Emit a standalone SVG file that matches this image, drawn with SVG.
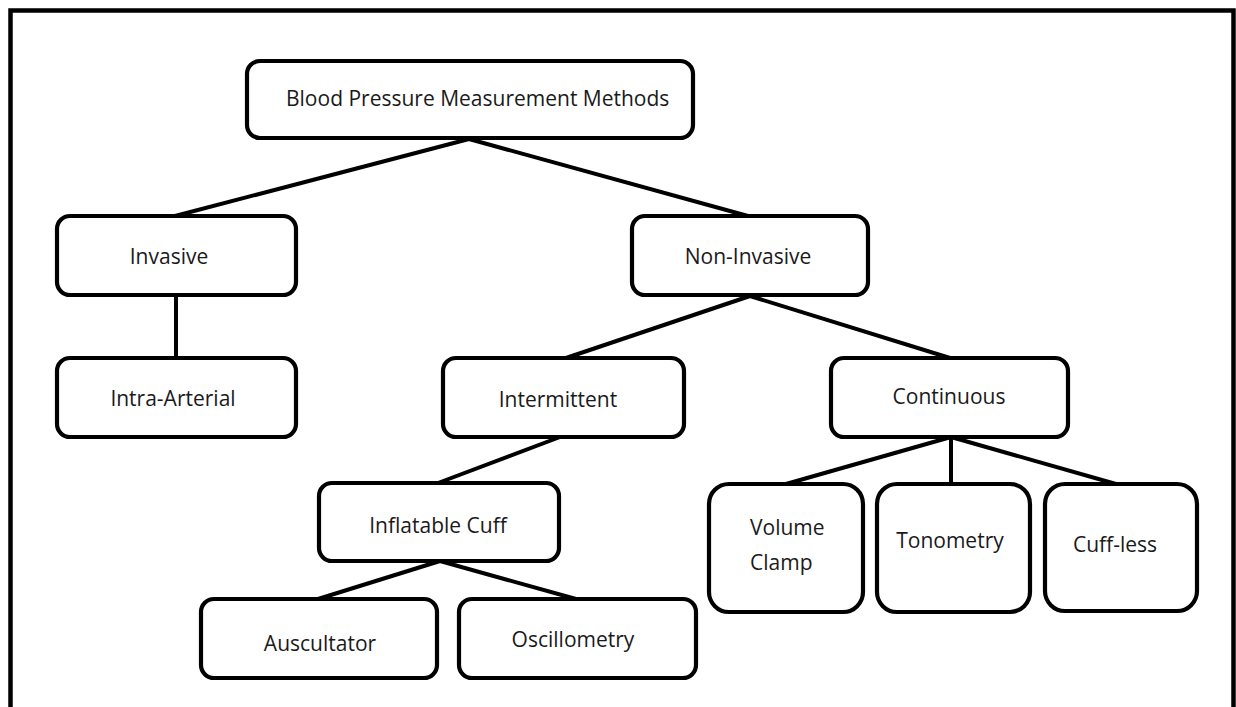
<svg xmlns="http://www.w3.org/2000/svg" width="1236" height="707" viewBox="0 0 1236 707">
  <style>
    .box { fill: #ffffff; stroke: #000000; stroke-width: 4.2; }
    .link { stroke: #000000; stroke-width: 4; stroke-linecap: butt; fill: none; }
    .frame { stroke: #000000; stroke-width: 4.5; fill: none; }
    text { font-family: "Open Sans", "Noto Sans", "DejaVu Sans", sans-serif; font-size: 21px; fill: #1a1a1a; }
    .c { text-anchor: middle; }
  </style>

  <rect width="1236" height="707" fill="#ffffff"/>

  <!-- page frame, open at the bottom -->
  <path class="frame" d="M10.5,707 V10.5 H1233.5 V707"/>

  <!-- tree edges -->
  <g id="connectors">
    <line class="link" x1="469" y1="139" x2="175" y2="216"/>
    <line class="link" x1="469" y1="139" x2="748" y2="216"/>
    <line class="link" x1="176" y1="295" x2="176" y2="358"/>
    <line class="link" x1="750" y1="296" x2="566" y2="358"/>
    <line class="link" x1="750" y1="296" x2="950" y2="358"/>
    <line class="link" x1="560" y1="437" x2="438" y2="483"/>
    <line class="link" x1="440" y1="561" x2="318" y2="599"/>
    <line class="link" x1="440" y1="561" x2="576" y2="599"/>
    <line class="link" x1="951" y1="437" x2="786" y2="484"/>
    <line class="link" x1="951" y1="437" x2="951" y2="484"/>
    <line class="link" x1="951" y1="437" x2="1116" y2="484"/>
  </g>

  <g id="root">
    <rect class="box" x="247" y="61" width="446" height="77" rx="13"/>
    <text x="286" y="106">Blood Pressure Measurement Methods</text>
  </g>

  <g id="invasive">
    <rect class="box" x="57" y="216" width="239" height="79" rx="13"/>
    <text class="c" x="169" y="264">Invasive</text>
  </g>

  <g id="intra-arterial">
    <rect class="box" x="57" y="358" width="239" height="79" rx="13"/>
    <text class="c" x="173" y="406">Intra-Arterial</text>
  </g>

  <g id="non-invasive">
    <rect class="box" x="632" y="216" width="236" height="79" rx="13"/>
    <text class="c" x="748" y="264">Non-Invasive</text>
  </g>

  <g id="intermittent">
    <rect class="box" x="443" y="358" width="241" height="79" rx="13"/>
    <text class="c" x="558" y="407">Intermittent</text>
  </g>

  <g id="continuous">
    <rect class="box" x="831" y="358" width="237" height="79" rx="13"/>
    <text class="c" x="949" y="404">Continuous</text>
  </g>

  <g id="inflatable-cuff">
    <rect class="box" x="319" y="483" width="240" height="78" rx="13"/>
    <text class="c" x="438" y="533">Inflatable Cuff</text>
  </g>

  <g id="auscultator">
    <rect class="box" x="201" y="599" width="236" height="79" rx="13"/>
    <text class="c" x="320" y="651">Auscultator</text>
  </g>

  <g id="oscillometry">
    <rect class="box" x="459" y="599" width="237" height="79" rx="13"/>
    <text class="c" x="573" y="647">Oscillometry</text>
  </g>

  <g id="volume-clamp">
    <rect class="box" x="709" y="484" width="154" height="128" rx="20"/>
    <text x="750" y="535">Volume</text>
    <text x="750" y="570">Clamp</text>
  </g>

  <g id="tonometry">
    <rect class="box" x="877" y="484" width="153" height="128" rx="20"/>
    <text class="c" x="950" y="548">Tonometry</text>
  </g>

  <g id="cuff-less">
    <rect class="box" x="1045" y="484" width="152" height="127" rx="20"/>
    <text class="c" x="1115" y="552">Cuff-less</text>
  </g>
</svg>
